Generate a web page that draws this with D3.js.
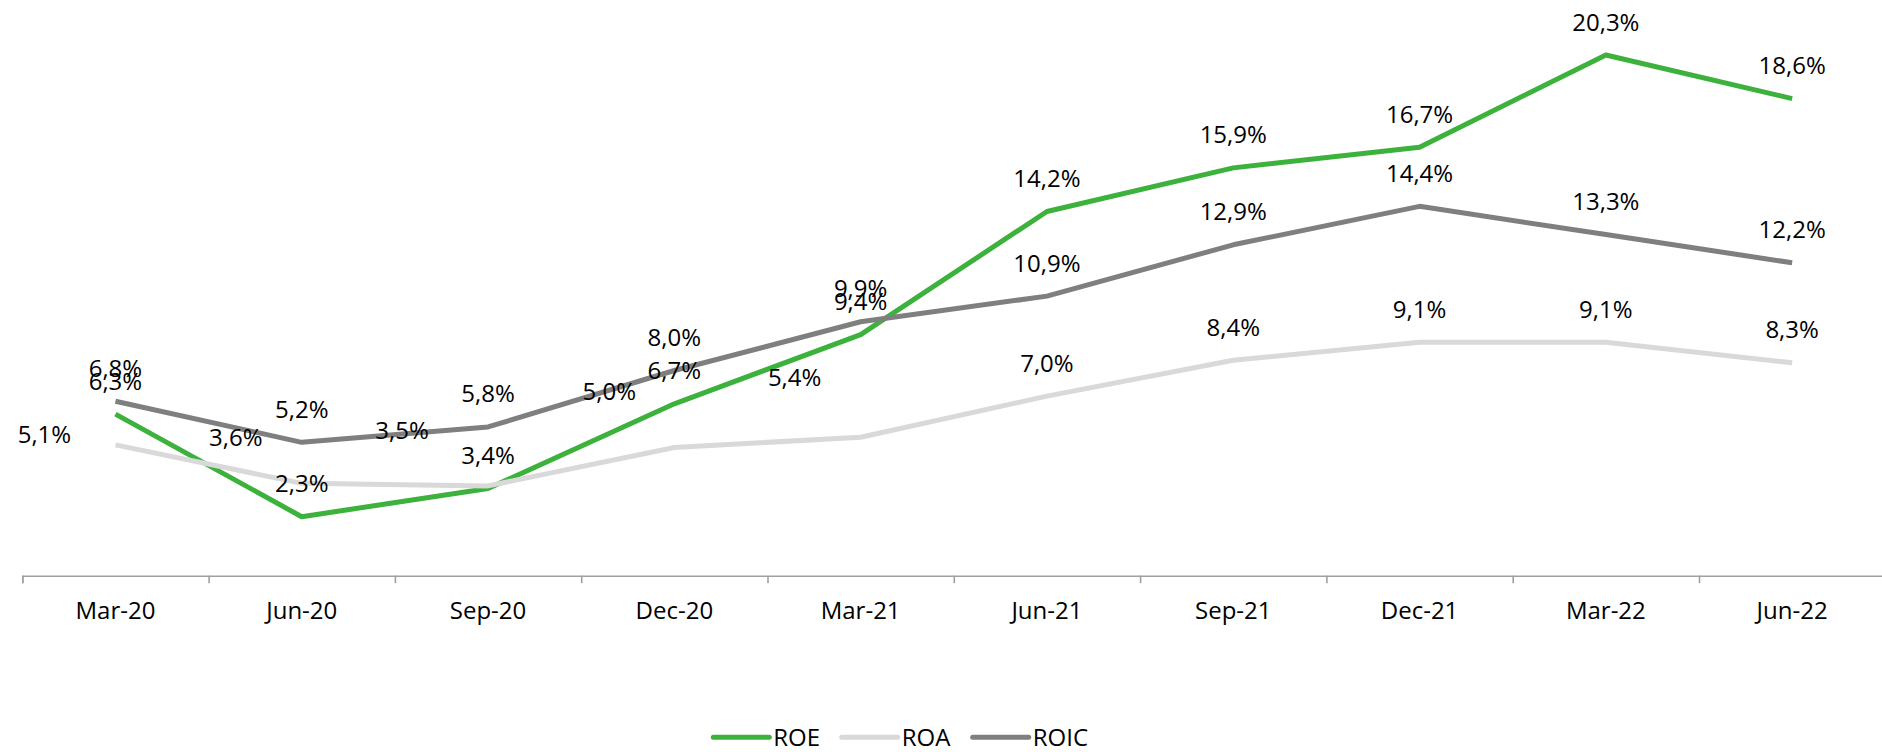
<!DOCTYPE html>
<html>
<head>
<meta charset="utf-8">
<script src="https://cdn.jsdelivr.net/npm/d3@7"></script>
<style>
  body { margin: 0; background: #fff; }
  #graf { width: 1882px; height: 752px; }
  text { font-family: "Open Sans", "Noto Sans", sans-serif; fill: #000; }
</style>
</head>
<body>
<div id="graf"></div>
<script>
// Datos
const quarters = ["Mar-20", "Jun-20", "Sep-20", "Dec-20", "Mar-21", "Jun-21", "Sep-21", "Dec-21", "Mar-22", "Jun-22"]
const roe = [6.3, 2.3, 3.4, 6.7, 9.4, 14.2, 15.9, 16.7, 20.3, 18.6]
const roa = [5.1, 3.6, 3.5, 5.0, 5.4, 7.0, 8.4, 9.1, 9.1, 8.3]
const roic = [6.8, 5.2, 5.8, 8.0, 9.9, 10.9, 12.9, 14.4, 13.3, 12.2]
const seriesNames = ["ROE", "ROA", "ROIC"]

const draw = () => {
  const graf = d3.select("#graf")
  const anchoTotal = 1882
  const altoTotal = 752

  const colors = ["#3cb13c", "#d9d9d9", "#7f7f7f"]
  const series = [roe, roa, roic].map((vals, i) => ({
    name: seriesNames[i],
    color: colors[i],
    values: vals.map((v, j) => ({ q: quarters[j], v: v, i: j }))
  }))

  // ROA labels were nudged by hand in the original (left of the point)
  const roaNudge = [[-71, -2], [-66, -37], [-86, -47], [-65, -47], [-66, -51]]
  const labelPos = (s, d) => {
    if (s.name == "ROA" && d.i < roaNudge.length) return roaNudge[d.i]
    return [0, -24.5]
  }

  const fmt = d3.formatLocale({ decimal: ",", thousands: ".", grouping: [3], currency: ["", ""] }).format(".1f")

  // Escaladores
  const x = d3.scaleBand().domain(quarters).range([22.3, 1885.3]).padding(0)
  const xc = (q) => x(q) + x.bandwidth() / 2
  const xEdges = d3.scaleLinear().domain([0, quarters.length]).range([22.3, 1885.3])
  const y = d3.scaleLinear().domain([0, 22]).range([575.7, 11.4])

  const svg = graf.append("svg")
    .attr("width", anchoTotal)
    .attr("height", altoTotal)

  // Eje X
  const axisG = svg.append("g").attr("transform", `translate(0, ${y(0)})`)
  axisG.call(d3.axisBottom(xEdges).tickValues(d3.range(0, quarters.length + 1)).tickSize(7.5).tickFormat(""))
  axisG.selectAll("path, line").attr("stroke", "#a0a0a0").attr("stroke-width", 1.6)

  const labelsG = svg.append("g").attr("transform", `translate(0, ${y(0)})`)
  labelsG.call(d3.axisBottom(x).tickSize(0).tickPadding(0))
  labelsG.select(".domain").remove()
  labelsG.selectAll("text")
    .attr("y", 43.3)
    .attr("dy", null)
    .style("font-size", "24px")
    .style("font-family", "'Open Sans', sans-serif")
    .attr("fill", "#000")

  // Lineas
  const line = d3.line().x((d) => xc(d.q)).y((d) => y(d.v))
  svg.append("g").selectAll("path")
    .data(series)
    .join("path")
    .attr("d", (s) => line(s.values))
    .attr("fill", "none")
    .attr("stroke", (s) => s.color)
    .attr("stroke-width", 5)
    .attr("stroke-linejoin", "round")

  // Etiquetas
  const lg = svg.append("g")
  series.forEach((s) => {
    lg.selectAll(null)
      .data(s.values)
      .join("text")
      .attr("x", (d) => xc(d.q) + labelPos(s, d)[0])
      .attr("y", (d) => y(d.v) + labelPos(s, d)[1])
      .attr("text-anchor", "middle")
      .style("font-size", "24px")
      .text((d) => fmt(d.v) + "%")
  })

  // Leyenda
  const legendX = [713.3, 841.7, 972.7]
  const leg = svg.append("g").attr("transform", "translate(0, 737.3)")
  const items = leg.selectAll("g").data(series).join("g")
    .attr("transform", (s, i) => `translate(${legendX[i]}, 0)`)
  items.append("line")
    .attr("x1", 0).attr("x2", 56)
    .attr("stroke", (s) => s.color)
    .attr("stroke-width", 5)
    .attr("stroke-linecap", "round")
  items.append("text")
    .attr("x", 60)
    .attr("y", 9)
    .style("font-size", "24px")
    .text((s) => s.name)
}

draw()
</script>
</body>
</html>
